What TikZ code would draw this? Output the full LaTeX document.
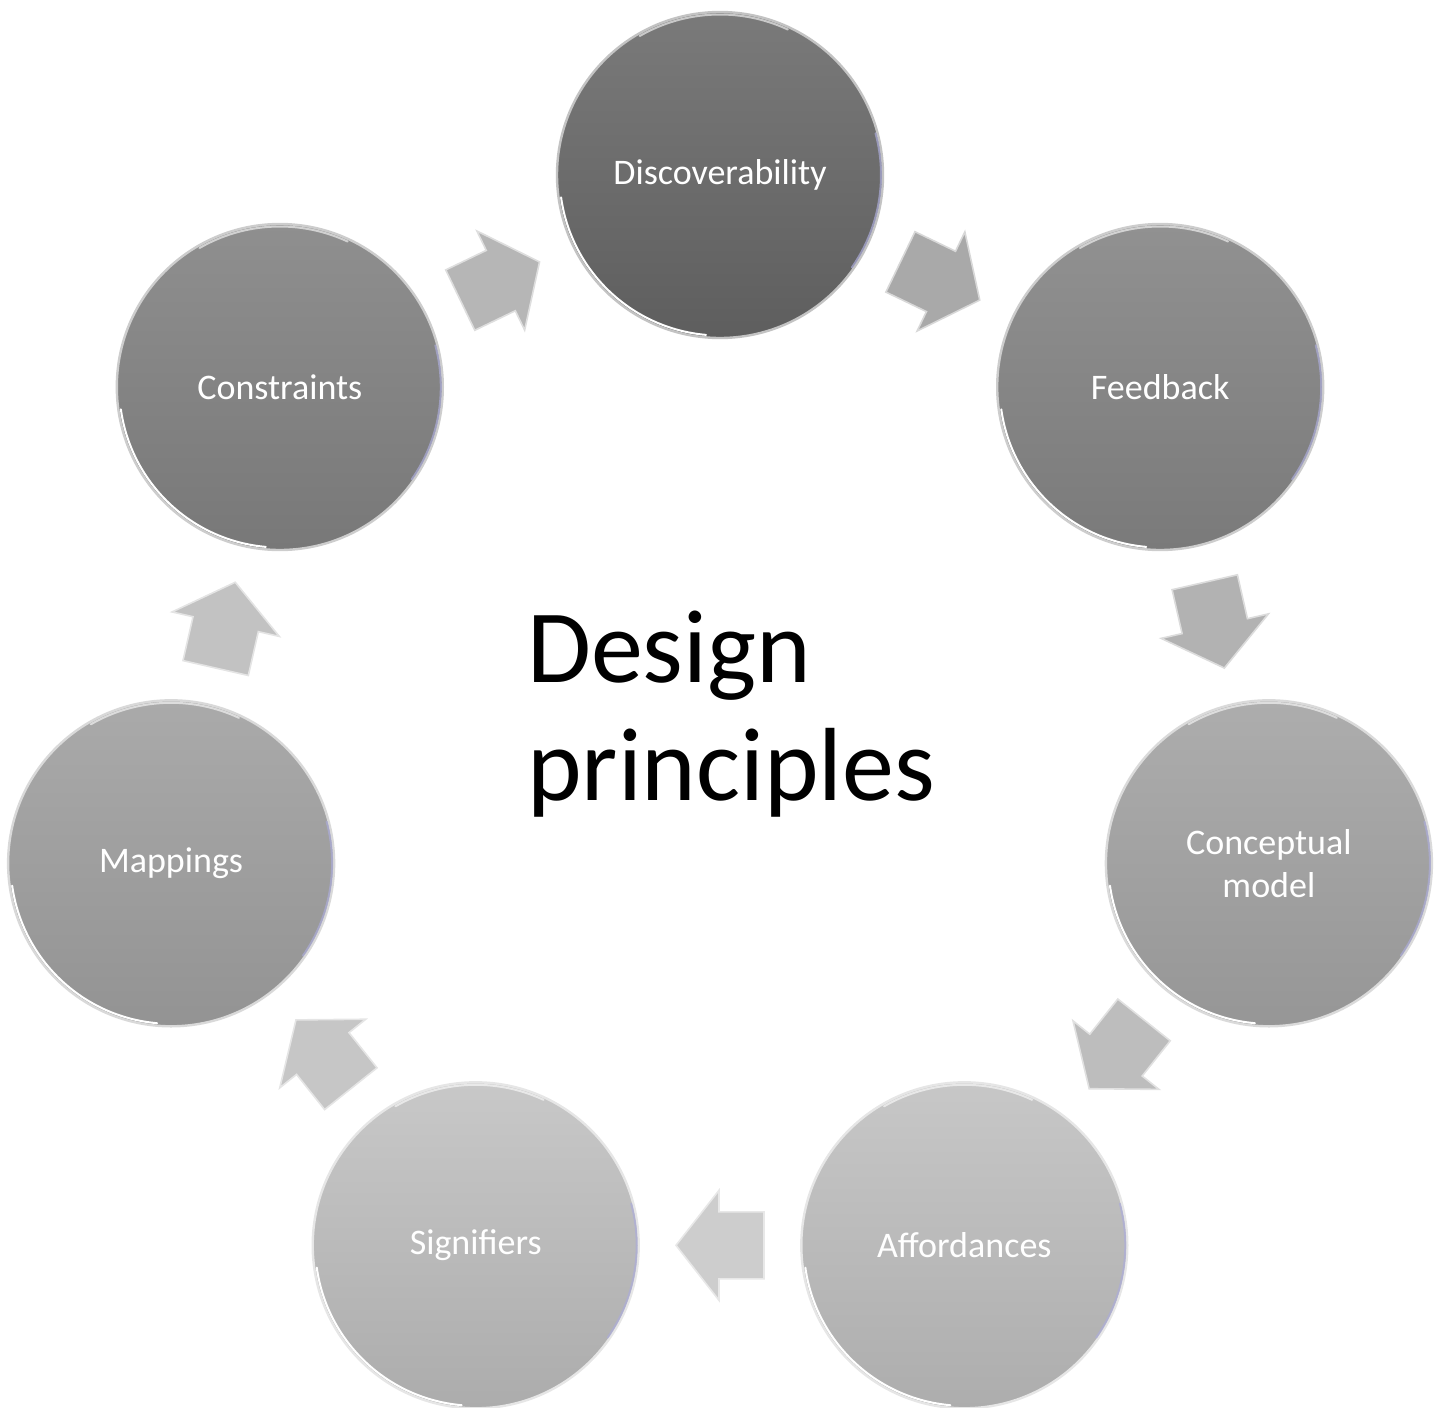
\documentclass[tikz,border=0pt]{standalone}
\usepackage{fontspec}
\setmainfont{Carlito}
\usetikzlibrary{calc}
\definecolor{dT}{HTML}{7A7A7A}\definecolor{dB}{HTML}{5E5E5E}
\definecolor{fT}{HTML}{919191}\definecolor{fB}{HTML}{7A7A7A}
\definecolor{kT}{HTML}{8F8F8F}\definecolor{kB}{HTML}{787878}
\definecolor{cT}{HTML}{ADADAD}\definecolor{cB}{HTML}{969696}
\definecolor{mT}{HTML}{AAAAAA}\definecolor{mB}{HTML}{939393}
\definecolor{aT}{HTML}{C7C7C7}\definecolor{aB}{HTML}{ADADAD}
\definecolor{sT}{HTML}{C8C8C8}\definecolor{sB}{HTML}{ACACAC}
\definecolor{ar1}{HTML}{A9A9A9}\definecolor{ar2}{HTML}{B2B2B2}
\definecolor{ar3}{HTML}{BDBDBD}\definecolor{ar4}{HTML}{CDCDCD}
\definecolor{ar5}{HTML}{C6C6C6}\definecolor{ar6}{HTML}{C2C2C2}
\definecolor{ar7}{HTML}{B6B6B6}
\newcommand\bubblerim[1]{%
  \draw[rimhl] ([shift={(188:160.5pt)}]#1.center) arc[start angle=188,end angle=265,radius=160.5pt];
  \draw[rimhl, opacity=0.6] ([shift={(65:160.5pt)}]#1.center) arc[start angle=65,end angle=120,radius=160.5pt];
  \draw[rimhl, draw=white!75!blue!70!gray, opacity=0.7] ([shift={(-35:161pt)}]#1.center) arc[start angle=-35,end angle=15,radius=161pt];}
\begin{document}
\begin{tikzpicture}[x=1pt,y=-1pt,
  bub/.style 2 args={circle, minimum size=326pt, inner sep=0pt, top color=#1, bottom color=#2,
    draw=#1!45!white, line width=2.4pt, text=white, align=center,
    font=\fontsize{36}{43}\selectfont},
  rimhl/.style={draw=white, line width=2pt, line cap=round},
  arr/.style={fill=#1, draw=#1!45!white, line width=1.6pt, line join=miter},
  blockarrow/.pic={\path[pic actions] (-44,-33.5) -- (1,-33.5) -- (1,-55) -- (44,0) -- (1,55) -- (1,33.5) -- (-44,33.5) -- cycle;}]
\useasboundingbox (0,0) rectangle (1441,1408);

\node[bub={dT}{dB}] (d) at (720,175) {Discoverability};
\node[bub={fT}{fB}] (f) at (1160.2,387) {Feedback};
\node[bub={cT}{cB}] (c) at (1268.9,863.3) {Conceptual\\model};
\node[bub={aT}{aB}] (a) at (964.3,1245.3) {Affordances};
\node[bub={sT}{sB}] (s) at (475.7,1245.3) {Signifiers};
\node[bub={mT}{mB}] (m) at (171.1,863.3) {Mappings};
\node[bub={kT}{kB}] (k) at (279.8,387) {Constraints};

\foreach \nn in {d,f,c,a,s,m,k}{\bubblerim{\nn}}

\foreach \ua/\ub/\col in {d/f/ar1, f/c/ar2, c/a/ar3, a/s/ar4, s/m/ar5, m/k/ar6, k/d/ar7}{
  \path let \p1=($(\ub)-(\ua)$), \n1={atan2(\y1,\x1)} in
    ($(\ua)!0.5!(\ub)$) pic[rotate=\n1, arr=\col] {blockarrow};
}

\node[font=\fontsize{104}{118}\selectfont, align=left, anchor=base west, inner sep=0pt] (title) at (527,800) {Design\\principles};
\end{tikzpicture}
\end{document}
